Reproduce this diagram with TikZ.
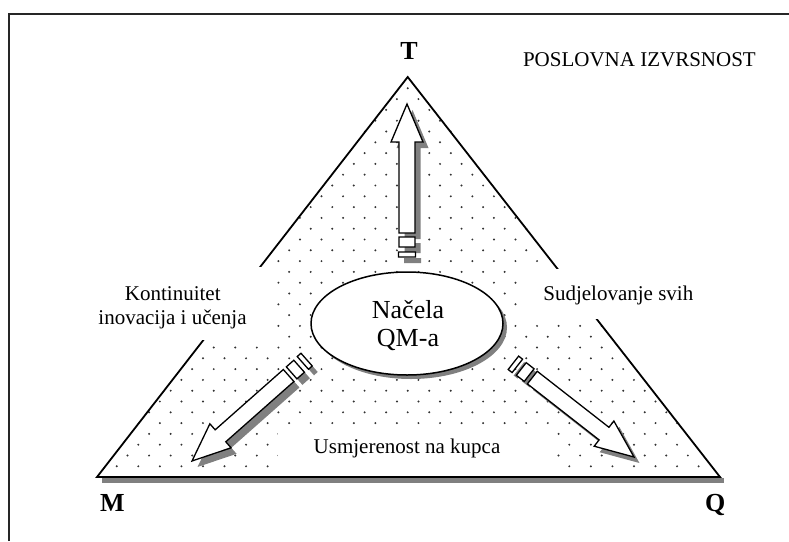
\documentclass[tikz,border=0pt]{standalone}
\usepackage{fontspec}
\setmainfont{Liberation Serif}
\usetikzlibrary{shapes.geometric}
\newcommand\blockarrowpath{(0,-8.5) rectangle (5,8.5) (10,-8) rectangle (20,8) (24,-8) -- (115,-8) -- (115,-16) -- (153,0) -- (115,16) -- (115,8) -- (24,8) -- cycle}
\begin{document}
\begin{tikzpicture}[x=1pt,y=-1pt]
\tikzset{
  edge/.style={line width=1.8pt, line join=miter},
  shadowfill/.style={fill=black!50, draw=none},
  arrowbody/.style={fill=white, draw=black, line width=1.3pt, line join=miter},
  lbl/.style={font=\fontsize{21}{24}\selectfont, inner sep=0pt, anchor=base},
  corner/.style={font=\fontsize{26}{28}\selectfont\bfseries, inner sep=0pt, anchor=base},
  whitebox/.style={fill=white, draw=none},
  dotstyle/.style={fill=black!80},
}
\useasboundingbox (0,0) rectangle (789,541);
\fill[white] (0,0) rectangle (789,541);
% frame
\draw[line width=1.8pt, black!85] (9,541) -- (9,14) -- (789,14);
% triangle corners
\coordinate (M) at (97,477);
\coordinate (T) at (407.7,77);
\coordinate (Q) at (720,477);
% dots
\begin{scope}
  \clip (95,479) -- (407.7,75) -- (722,479) -- cycle;
  \foreach \n in {0,...,36}{
    \pgfmathsetmacro\off{mod(\n,2)}
    \foreach \m in {-30,-28,...,30}{
      \fill[dotstyle] ({407.7+10.775*(\m+\off)},{88.3+10.8*\n}) circle[radius=1.1pt];
    }
  }
\end{scope}
% bottom shadow and triangle
\draw[line width=5pt, black!50] (102,480.5) -- (724,480.5);
\draw[edge] (M) -- (T) -- (Q) -- cycle;
% white boxes behind labels
\fill[whitebox] (60,267) rectangle (276,340);
\fill[whitebox] (523,269) rectangle (700,319);
\fill[whitebox] (278,427) rectangle (556,468);
% ellipse
\fill[shadowfill] (411,327.5) ellipse[x radius=96pt, y radius=51.5pt];
\node[ellipse, draw=black, fill=white, line width=1.5pt, minimum width=192pt, minimum height=103pt, inner sep=0pt] (core) at (407,323.5) {};
% arrows: shadows
\begin{scope}[shift={(412.5,263)}, rotate=90] \fill[shadowfill] \blockarrowpath; \end{scope}
\begin{scope}[shift={(312.1,365.6)}, rotate=221.5] \fill[shadowfill] \blockarrowpath; \end{scope}
\begin{scope}[shift={(518.9,368.8)}, rotate=-38] \fill[shadowfill] \blockarrowpath; \end{scope}
% arrows: bodies
\begin{scope}[shift={(407,257)}, rotate=90] \draw[arrowbody] \blockarrowpath; \end{scope}
\begin{scope}[shift={(306.6,359.6)}, rotate=221.5] \draw[arrowbody] \blockarrowpath; \end{scope}
\begin{scope}[shift={(513.4,362.8)}, rotate=-38] \draw[arrowbody] \blockarrowpath; \end{scope}
% labels
\node[corner] (tl) at (409,59.3) {T};
\node[corner] (ml) at (112.3,511.7) {M};
\node[corner] (ql) at (715.3,511.7) {Q};
\node[lbl, anchor=base east] (pi) at (756,66.7) {POSLOVNA IZVRSNOST};
\node[lbl] (k1) at (172.8,300.7) {Kontinuitet};
\node[lbl] (k2) at (172.5,324) {inovacija i učenja};
\node[lbl] (sv) at (618.3,300) {Sudjelovanje svih};
\node[lbl] (uk) at (407,453) {Usmjerenost na kupca};
\node[font=\fontsize{26}{28}\selectfont, inner sep=0pt, anchor=base] (n1) at (408,318.3) {Načela};
\node[font=\fontsize{26}{28}\selectfont, inner sep=0pt, anchor=base] (n2) at (408,346.7) {QM-a};
\end{tikzpicture}
\end{document}
